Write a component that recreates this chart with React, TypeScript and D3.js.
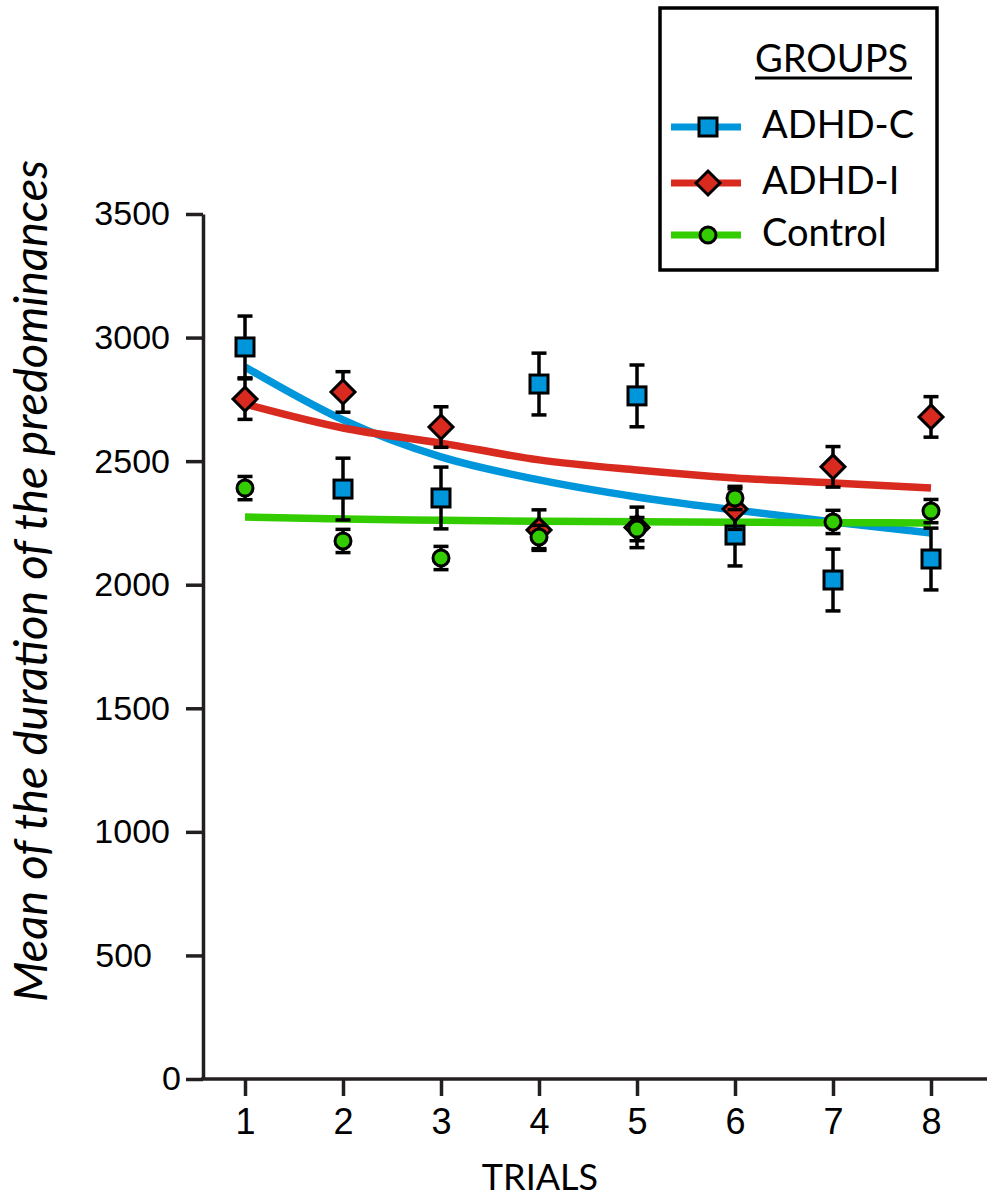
import React, { useEffect, useRef } from "react";
import * as d3 from "d3";

const trials = [1, 2, 3, 4, 5, 6, 7, 8];
const yTicks = [0, 500, 1000, 1500, 2000, 2500, 3000, 3500];

const adhdCMean = [2962, 2387, 2351, 2812, 2764, 2201, 2019, 2104];
const adhdCSE = [125, 125, 125, 125, 125, 125, 125, 125];
const adhdCFit = [2881, 2667, 2517, 2424, 2355, 2302, 2254, 2209];

const adhdIMean = [2751, 2780, 2638, 2221, 2232, 2306, 2477, 2679];
const adhdISE = [82, 82, 82, 82, 82, 82, 82, 82];
const adhdIFit = [2731, 2634, 2573, 2505, 2464, 2432, 2412, 2391];

const controlMean = [2391, 2177, 2108, 2193, 2225, 2351, 2254, 2298];
const controlSE = [47, 47, 47, 47, 47, 47, 47, 47];
const controlFit = [2274, 2266, 2261, 2257, 2255, 2253, 2251, 2250];

const INK = "#231f20";

const groups = [
  { name: "ADHD-C", color: "#0096db", shape: "square", mean: adhdCMean, se: adhdCSE, fit: adhdCFit },
  { name: "ADHD-I", color: "#d92a1f", shape: "diamond", mean: adhdIMean, se: adhdISE, fit: adhdIFit },
  { name: "Control", color: "#33cc00", shape: "circle", mean: controlMean, se: controlSE, fit: controlFit },
];

const drawMarker = (g, shape, color, cx, cy) => {
  if (shape === "square") {
    g.append("rect")
      .attr("x", cx - 9)
      .attr("y", cy - 9)
      .attr("width", 18)
      .attr("height", 18)
      .attr("fill", color)
      .attr("stroke", "#000")
      .attr("stroke-width", 3);
  } else if (shape === "diamond") {
    g.append("path")
      .attr("d", `M${cx},${cy - 12}L${cx + 12},${cy}L${cx},${cy + 12}L${cx - 12},${cy}Z`)
      .attr("fill", color)
      .attr("stroke", "#000")
      .attr("stroke-width", 3);
  } else {
    g.append("circle")
      .attr("cx", cx)
      .attr("cy", cy)
      .attr("r", 8)
      .attr("fill", color)
      .attr("stroke", "#000")
      .attr("stroke-width", 3);
  }
};

const Chart = () => {
  const ref = useRef(null);

  useEffect(() => {
    const svg = d3.select(ref.current);
    svg.selectAll("*").remove();

    const x = d3.scaleLinear().domain([1, 8]).range([245, 931]);
    const y = d3.scaleLinear().domain([0, 3500]).range([1079, 214]);

    // y axis
    const yAxis = svg
      .append("g")
      .attr("transform", "translate(203,0)")
      .call(
        d3
          .axisLeft(y)
          .tickValues(yTicks)
          .tickSize(17)
          .tickPadding(16)
          .tickSizeOuter(0)
          .tickFormat(d3.format("d"))
      );
    yAxis.select(".domain").attr("stroke", INK).attr("stroke-width", 3.5);
    yAxis.selectAll(".tick line").attr("stroke", INK).attr("stroke-width", 3.5);
    yAxis
      .selectAll(".tick text")
      .attr("fill", "#000")
      .style("font-family", "'Liberation Sans', Arial, sans-serif")
      .style("font-size", "34px")
      .attr("dx", (d) => (d === 500 ? -18 : d === 0 ? 11 : 0));

    // x axis
    const xAxis = svg
      .append("g")
      .attr("transform", "translate(0,1079)")
      .call(d3.axisBottom(x).tickValues(trials).tickSize(17).tickPadding(12).tickFormat(d3.format("d")));
    xAxis.select(".domain").remove();
    xAxis.selectAll(".tick line").attr("stroke", INK).attr("stroke-width", 3.5);
    xAxis
      .selectAll(".tick text")
      .attr("fill", "#000")
      .style("font-family", "'Liberation Sans', Arial, sans-serif")
      .style("font-size", "36px");
    svg
      .append("line")
      .attr("x1", 201)
      .attr("x2", 987)
      .attr("y1", 1079)
      .attr("y2", 1079)
      .attr("stroke", INK)
      .attr("stroke-width", 3.5);

    // axis titles
    svg
      .append("text")
      .attr("x", 540)
      .attr("y", 1190)
      .attr("text-anchor", "middle")
      .style("font-family", "Lato, sans-serif")
      .style("font-size", "36px")
      .text("TRIALS");
    svg
      .append("text")
      .attr("transform", "translate(47,581) rotate(-90)")
      .attr("text-anchor", "middle")
      .style("font-family", "Lato, sans-serif")
      .style("font-style", "italic")
      .style("font-size", "47px")
      .text("Mean of the duration of the predominances");

    // fitted curves
    const line = d3
      .line()
      .x((d) => x(d[0]))
      .y((d) => y(d[1]))
      .curve(d3.curveMonotoneX);
    groups.forEach((grp) => {
      svg
        .append("path")
        .attr("d", line(trials.map((t, i) => [t, grp.fit[i]])))
        .attr("fill", "none")
        .attr("stroke", grp.color)
        .attr("stroke-width", 7.5);
    });

    // error bars + markers
    groups.forEach((grp) => {
      const g = svg.append("g");
      trials.forEach((t, i) => {
        const cx = x(t);
        const top = y(grp.mean[i] + grp.se[i]);
        const bot = y(grp.mean[i] - grp.se[i]);
        g.append("line").attr("x1", cx).attr("x2", cx).attr("y1", top).attr("y2", bot)
          .attr("stroke", "#000").attr("stroke-width", 3.5);
        [top, bot].forEach((yy) =>
          g.append("line").attr("x1", cx - 7.5).attr("x2", cx + 7.5).attr("y1", yy).attr("y2", yy)
            .attr("stroke", "#000").attr("stroke-width", 3.5)
        );
        drawMarker(g, grp.shape, grp.color, cx, y(grp.mean[i]));
      });
    });

    // legend
    const leg = svg.append("g");
    leg.append("rect")
      .attr("x", 660)
      .attr("y", 8)
      .attr("width", 277)
      .attr("height", 262)
      .attr("fill", "#fff")
      .attr("stroke", "#000")
      .attr("stroke-width", 3.5);
    leg.append("text")
      .attr("x", 755)
      .attr("y", 72)
      .style("font-family", "Lato, sans-serif")
      .style("font-size", "38px")
      .text("GROUPS");
    leg.append("line")
      .attr("x1", 755)
      .attr("x2", 912)
      .attr("y1", 78)
      .attr("y2", 78)
      .attr("stroke", "#000")
      .attr("stroke-width", 3);
    const rowY = [127, 183, 235];
    groups.forEach((grp, i) => {
      leg.append("line")
        .attr("x1", 671)
        .attr("x2", 741)
        .attr("y1", rowY[i])
        .attr("y2", rowY[i])
        .attr("stroke", grp.color)
        .attr("stroke-width", 7);
      drawMarker(leg, grp.shape, grp.color, 708, rowY[i]);
      leg.append("text")
        .attr("x", 762)
        .attr("y", rowY[i] + 11)
        .style("font-family", "Lato, sans-serif")
        .style("font-size", "38px")
        .text(grp.name);
    });
  }, []);

  return (
    <svg
      ref={ref}
      width={987}
      height={1202}
      style={{ position: "absolute", left: 0, top: 0, background: "#fff" }}
    ></svg>
  );
};

export default function App() {
  return <Chart />;
}
